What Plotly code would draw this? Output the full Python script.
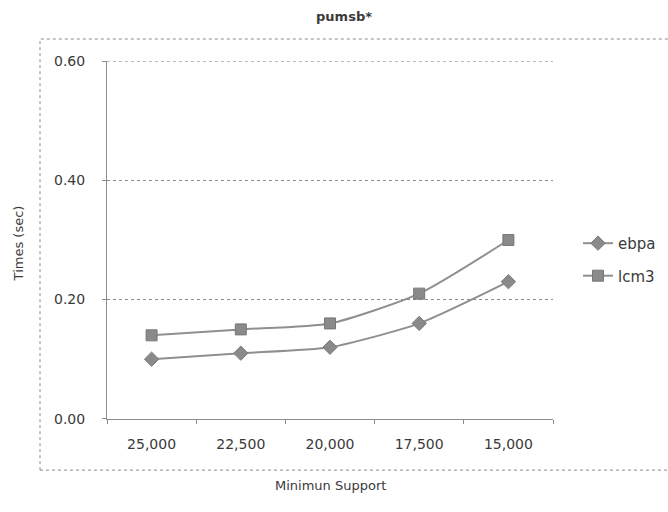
import plotly.graph_objects as go

# Minimum support thresholds (categories, in display order)
support = ["25,000", "22,500", "20,000", "17,500", "15,000"]

# Running times in seconds
ebpa_times = [0.10, 0.11, 0.12, 0.16, 0.23]
lcm3_times = [0.14, 0.15, 0.16, 0.21, 0.30]

y_ticks = [0.0, 0.2, 0.4, 0.6]
y_max = 0.6

W, H = 668, 512
FONT = "DejaVu Sans, Verdana, sans-serif"
TEXT = "#3a3a3a"
GRID = "#8c8c8c"
LINE = "#8f8f8f"

fig = go.Figure()

fig.add_trace(go.Scatter(
    x=support, y=ebpa_times, name="ebpa", legendgroup="ebpa",
    mode="lines+markers",
    line=dict(color=LINE, width=2, shape="spline", smoothing=0.6),
    marker=dict(symbol="diamond", size=11, color="#8a8a8a",
                line=dict(color="#7a7a7a", width=1)),
))
fig.add_trace(go.Scatter(
    x=support, y=lcm3_times, name="lcm3", legendgroup="lcm3",
    mode="lines+markers",
    line=dict(color=LINE, width=2, shape="spline", smoothing=0.6),
    marker=dict(symbol="square", size=11, color="#8a8a8a",
                line=dict(color="#777777", width=1)),
))

# plot area in pixels
x0, x1 = 107, 553
y_top, y_bot = 55, 424

fig.update_layout(
    width=W, height=H,
    margin=dict(l=0, r=0, t=0, b=0),
    paper_bgcolor="white", plot_bgcolor="white",
    font=dict(family=FONT, size=13, color=TEXT),
    title=dict(text="<b>pumsb*</b>", x=0.515, xanchor="center",
               y=1 - 16 / H, yanchor="middle",
               font=dict(family=FONT, size=13, color=TEXT)),
    xaxis=dict(
        domain=[x0 / W, x1 / W],
        type="category", range=[-0.5, 4.5],
        showline=True, linecolor=GRID, linewidth=1,
        ticks="outside", tickson="boundaries", ticklen=4, tickcolor=GRID,
        ticklabelstandoff=12,
        showgrid=False, zeroline=False,
        tickfont=dict(family=FONT, size=14, color=TEXT),
    ),
    yaxis=dict(
        domain=[1 - y_bot / H, 1 - y_top / H],
        range=[0, y_max], tickvals=y_ticks, tickformat=".2f",
        showline=True, linecolor=GRID, linewidth=1,
        ticks="outside", ticklen=4, tickcolor=GRID,
        ticklabelstandoff=14,
        showgrid=True, gridcolor=GRID, gridwidth=1, griddash="dot",
        zeroline=False,
        tickfont=dict(family=FONT, size=14, color=TEXT),
    ),
    legend=dict(
        x=578 / W, xanchor="left", y=1 - 226 / H, yanchor="top",
        bgcolor="rgba(0,0,0,0)", tracegroupgap=10,
        font=dict(family=FONT, size=15, color=TEXT),
        itemwidth=30,
    ),
    annotations=[
        dict(text="Minimun Support", xref="paper", yref="paper",
             x=330 / W, y=1 - 493 / H, xanchor="center", yanchor="middle",
             showarrow=False, font=dict(family=FONT, size=13, color=TEXT)),
        dict(text="Times (sec)", xref="paper", yref="paper",
             x=18 / W, y=1 - 243 / H, xanchor="center", yanchor="middle",
             textangle=-90, showarrow=False,
             font=dict(family=FONT, size=13, color=TEXT)),
    ],
    shapes=[
        # plot-area border around the axes and tick labels
        dict(type="rect", xref="paper", yref="paper",
             x0=40 / W, x1=1.02, y0=1 - 477 / H, y1=1 - 32 / H,
             line=dict(color="#8a8a8a", width=1, dash="dot"),
             fillcolor="rgba(0,0,0,0)", layer="below"),
        # gridline at the top of the value range
        dict(type="line", xref="x domain", yref="y",
             x0=0, x1=1, y0=y_max, y1=y_max,
             line=dict(color=GRID, width=1, dash="dot"), layer="below"),
    ],
)

fig.write_html("out.html")
